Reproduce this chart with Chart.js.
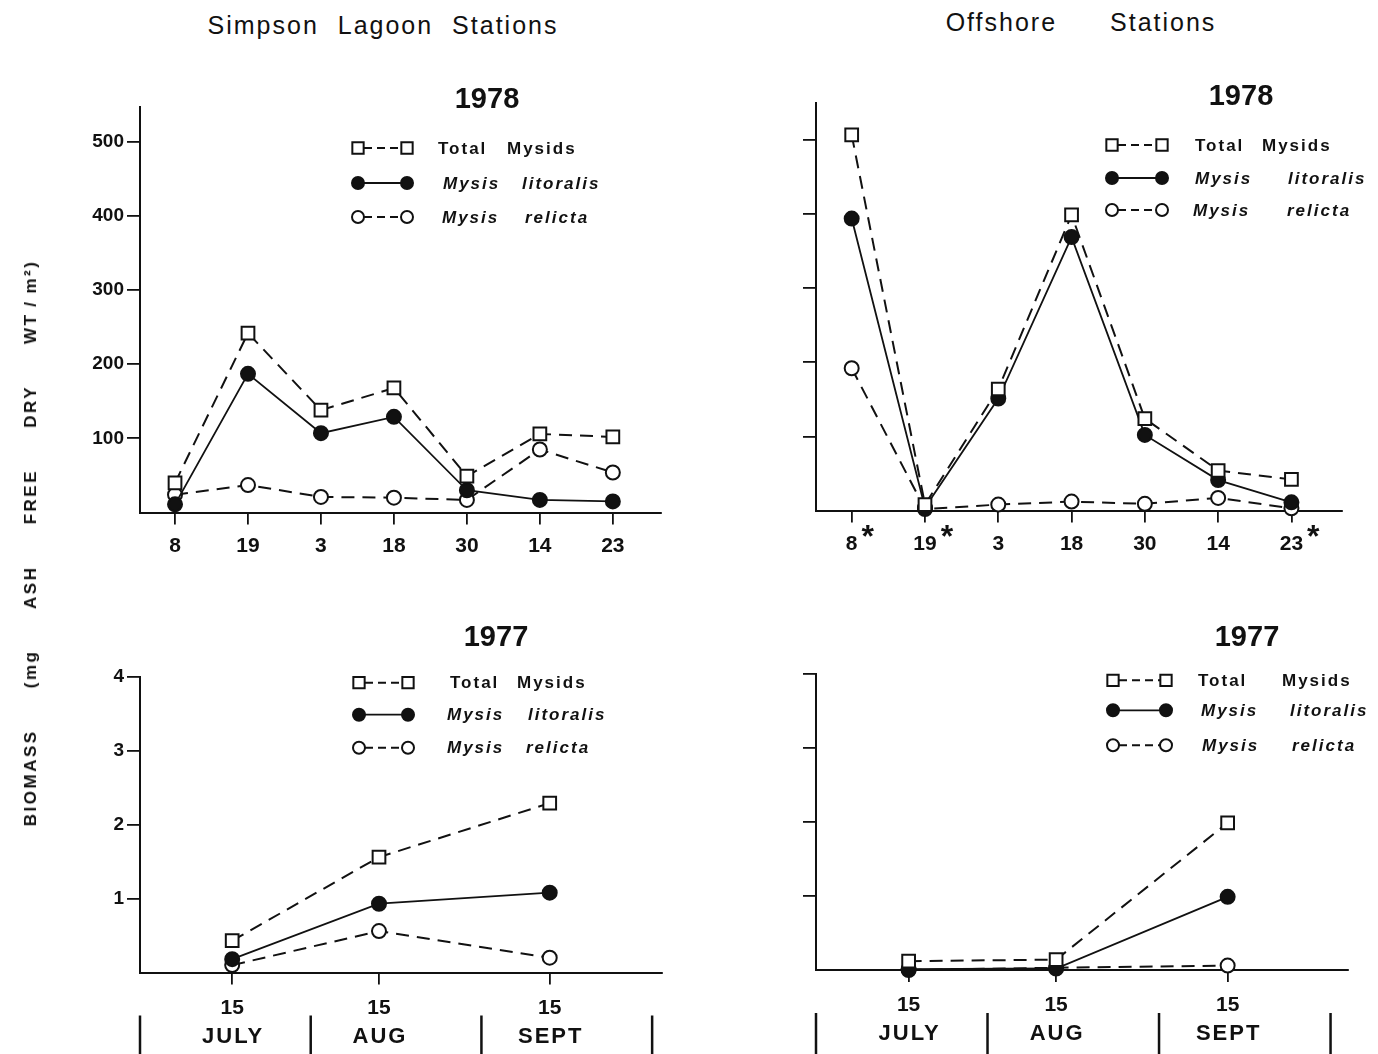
<!DOCTYPE html>
<html>
<head>
<meta charset="utf-8">
<script src="https://cdn.jsdelivr.net/npm/chart.js@4.4.1/dist/chart.umd.min.js"></script>
<style>
  html, body { margin: 0; padding: 0; background: #fff; }
  body { width: 1378px; height: 1054px; position: relative; overflow: hidden;
         font-family: "Liberation Sans", Arial, Helvetica, sans-serif; color: #111; }
  canvas { position: absolute; }
  .head { position: absolute; transform: translate(-50%, -50%); white-space: pre;
          font-size: 25px; letter-spacing: 2px; }
  #ytitle { position: absolute; left: 31px; top: 543px; white-space: pre;
            transform: translate(-50%, -50%) rotate(-90deg);
            font-weight: bold; font-size: 17px; letter-spacing: 2.5px; word-spacing: 34px; }
</style>
</head>
<body>
<canvas id="lagoon78" width="700" height="540" style="left:0;top:60px"></canvas>
<canvas id="offshore78" width="698" height="540" style="left:680px;top:60px"></canvas>
<canvas id="lagoon77" width="700" height="454" style="left:0;top:600px"></canvas>
<canvas id="offshore77" width="698" height="454" style="left:680px;top:600px"></canvas>
<div class="head" style="left:383px;top:25px;word-spacing:10px">Simpson Lagoon Stations</div>
<div class="head" style="left:1081px;top:22px;word-spacing:44px">Offshore Stations</div>
<div id="ytitle">BIOMASS (mg ASH FREE DRY WT&#8201;/&#8201;m²)</div>
<script>
const INK = '#111';
const FONT = '"Liberation Sans", Arial, Helvetica, sans-serif';

// Series shown in every panel
const seriesNames = ['Total Mysids', 'Mysis litoralis', 'Mysis relicta'];

// 1978 stations: sampling day of month, July 8 to Sept 23
const stationDays1978 = ['8', '19', '3', '18', '30', '14', '23'];
const stationIndex1978 = [0, 1, 2, 3, 4, 5, 6];
const offshoreStarred1978 = [true, true, false, false, false, false, true];

const lagoon1978Total     = [40, 242, 138, 168, 49, 106, 102];
const lagoon1978Litoralis = [11, 187, 107, 129, 30, 17, 15];
const lagoon1978Relicta   = [24, 37, 21, 20, 17, 85, 54];

const offshore1978Total     = [507, 8, 164, 399, 124, 54, 42];
const offshore1978Litoralis = [394, 4, 151, 369, 102, 41, 11];
const offshore1978Relicta   = [192, 2, 8, 12, 9, 17, 3];

// 1977: mid-month samples, position in months counted from 1 July
const samplePos1977 = [0.54, 1.40, 2.40];
const sampleDay1977 = ['15', '15', '15'];
const monthNames1977 = ['JULY', 'AUG', 'SEPT'];
const monthBounds1977 = [0, 1, 2, 3];

const lagoon1977Total     = [0.43, 1.56, 2.29];
const lagoon1977Litoralis = [0.18, 0.93, 1.08];
const lagoon1977Relicta   = [0.10, 0.56, 0.20];

const offshore1977Total     = [0.12, 0.14, 1.99];
const offshore1977Litoralis = [0.01, 0.02, 0.99];
const offshore1977Relicta   = [0.00, 0.03, 0.06];

const yTicks1978 = [100, 200, 300, 400, 500];
const yTicks1977 = [1, 2, 3, 4];

// Marker and line style per series (square/dashed, filled dot/solid, open dot/dashed)
const seriesStyle = [
  { pointStyle: 'rect',   pointRadius: 9, pointBackgroundColor: '#fff', borderDash: [13, 8], borderWidth: 2 },
  { pointStyle: 'circle', pointRadius: 7, pointBackgroundColor: INK,    borderDash: [],      borderWidth: 1.8 },
  { pointStyle: 'circle', pointRadius: 7, pointBackgroundColor: '#fff', borderDash: [13, 8], borderWidth: 2 }
];
const legendDash = [[8, 5], [], [8, 5]];
const legendItalic = [false, true, true];

function makeDatasets(xs, seriesList) {
  return seriesList.map((vals, i) => Object.assign({
    label: seriesNames[i],
    data: vals.map((v, k) => ({ x: xs[k], y: v })),
    borderColor: INK,
    pointBorderColor: INK,
    pointBorderWidth: 2,
    tension: 0,
    fill: false,
    clip: false
  }, seriesStyle[i]));
}

// Panel title, legend, starred stations and month row
const panelDecor = {
  id: 'panelDecor',
  afterDraw(chart, args, o) {
    const { ctx, chartArea: a, scales: { x } } = chart;
    ctx.save();
    ctx.fillStyle = INK;
    ctx.strokeStyle = INK;

    // year title
    ctx.font = 'bold 29px ' + FONT;
    ctx.textAlign = 'center';
    ctx.textBaseline = 'middle';
    ctx.fillText(o.title, a.left + o.titleDx, a.top + o.titleDy);

    // legend: marker - line - marker, then the two words
    chart.data.datasets.forEach((ds, i) => {
      const row = o.rows[i];
      const cy = a.top + row.dy;
      const x1 = a.left + o.symX[0], x2 = a.left + o.symX[1];
      ctx.beginPath();
      ctx.setLineDash(legendDash[i]);
      ctx.lineWidth = ds.borderWidth;
      ctx.moveTo(x1 + 6, cy);
      ctx.lineTo(x2 - 6, cy);
      ctx.stroke();
      ctx.setLineDash([]);
      [x1, x2].forEach(px => {
        ctx.fillStyle = ds.pointBackgroundColor;
        ctx.lineWidth = 2;
        Chart.helpers.drawPoint(ctx, {
          pointStyle: ds.pointStyle, radius: ds.pointRadius - 1, borderWidth: 2, rotation: 0
        }, px, cy);
      });
      ctx.fillStyle = INK;
      ctx.font = (legendItalic[i] ? 'italic ' : '') + 'bold 17px ' + FONT;
      ctx.letterSpacing = '2px';
      ctx.textAlign = 'left';
      ctx.textBaseline = 'middle';
      ds.label.split(' ').forEach((w, k) => ctx.fillText(w, a.left + row.wx[k], cy + 1));
      ctx.letterSpacing = '0px';
    });

    // asterisks beside starred stations
    if (o.stars) {
      ctx.textAlign = 'left';
      ctx.textBaseline = 'alphabetic';
      o.stars.forEach((s, i) => {
        if (!s) return;
        ctx.font = 'bold 21px ' + FONT;
        const w = ctx.measureText(o.starLabels[i]).width;
        ctx.font = 'bold 32px ' + FONT;
        ctx.fillText('*', x.getPixelForValue(i) + w / 2 + 4, a.bottom + 36);
      });
    }

    // month names and month boundaries
    if (o.months) {
      ctx.font = 'bold 22px ' + FONT;
      ctx.letterSpacing = '2px';
      ctx.textAlign = 'center';
      ctx.textBaseline = 'middle';
      o.months.forEach((m, i) => ctx.fillText(m, x.getPixelForValue(o.monthAt[i]) + 1, a.bottom + 64));
      ctx.letterSpacing = '0px';
      ctx.lineWidth = 2.5;
      o.bounds.forEach(b => {
        const px = x.getPixelForValue(b);
        ctx.beginPath();
        ctx.moveTo(px, a.bottom + 43);
        ctx.lineTo(px, a.bottom + 95);
        ctx.stroke();
      });
    }
    ctx.restore();
  }
};

function makePanel(id, p) {
  return new Chart(document.getElementById(id), {
    type: 'line',
    data: { datasets: makeDatasets(p.xs, p.series) },
    options: {
      responsive: false,
      animation: false,
      events: [],
      layout: { padding: p.padding },
      plugins: { legend: { display: false }, tooltip: { enabled: false }, panelDecor: p.decor },
      scales: {
        x: {
          type: 'linear', min: p.xMin, max: p.xMax,
          border: { display: true, color: INK, width: 2 },
          grid: { display: true, drawOnChartArea: false, drawTicks: true, tickLength: 12, color: INK, lineWidth: 1.8 },
          ticks: {
            autoSkip: false, maxRotation: 0, padding: p.xPad, color: INK,
            font: { family: FONT, size: 21, weight: 'bold' },
            callback: (v, i) => p.xLabels[i]
          },
          afterBuildTicks: s => { s.ticks = p.xs.map(v => ({ value: v })); },
          afterFit: s => { s.height = p.xHeight; }
        },
        y: {
          type: 'linear', min: 0, max: p.yMax,
          border: { display: true, color: INK, width: 2 },
          grid: { display: true, drawOnChartArea: false, drawTicks: true, tickLength: 13, color: INK, lineWidth: 1.8 },
          ticks: {
            display: p.yLabels, padding: 3, color: INK,
            font: { family: FONT, size: 19, weight: 'bold' }
          },
          afterBuildTicks: s => { s.ticks = p.yTicks.map(v => ({ value: v })); },
          afterFit: s => { s.width = p.yWidth; }
        }
      }
    },
    plugins: [panelDecor]
  });
}

makePanel('lagoon78', {
  xs: stationIndex1978, xLabels: stationDays1978, xMin: -0.48, xMax: 6.66, xPad: 9, xHeight: 87.5,
  series: [lagoon1978Total, lagoon1978Litoralis, lagoon1978Relicta],
  yMax: 547, yTicks: yTicks1978, yLabels: true, yWidth: 140,
  padding: { left: 0, top: 47, right: 39, bottom: 0 },
  decor: {
    title: '1978', titleDx: 347, titleDy: -7, symX: [218, 267],
    rows: [{ dy: 41, wx: [298, 367] }, { dy: 76, wx: [303, 382] }, { dy: 110, wx: [302, 385] }]
  }
});

makePanel('offshore78', {
  xs: stationIndex1978, xLabels: stationDays1978, xMin: -0.487, xMax: 6.69, xPad: 9, xHeight: 89.5,
  series: [offshore1978Total, offshore1978Litoralis, offshore1978Relicta],
  yMax: 550, yTicks: yTicks1978, yLabels: false, yWidth: 136,
  padding: { left: 0, top: 43, right: 36, bottom: 0 },
  decor: {
    title: '1978', titleDx: 425, titleDy: -6, symX: [296, 346],
    rows: [{ dy: 42, wx: [379, 446] }, { dy: 75, wx: [379, 472] }, { dy: 107, wx: [377, 471] }],
    stars: offshoreStarred1978, starLabels: stationDays1978
  }
});

makePanel('lagoon77', {
  xs: samplePos1977, xLabels: sampleDay1977, xMin: 0, xMax: 3.056, xPad: 11, xHeight: 81.5,
  series: [lagoon1977Total, lagoon1977Litoralis, lagoon1977Relicta],
  yMax: 4, yTicks: yTicks1977, yLabels: true, yWidth: 140,
  padding: { left: 0, top: 76.7, right: 38.3, bottom: 0 },
  decor: {
    title: '1977', titleDx: 356, titleDy: -39, symX: [219, 268],
    rows: [{ dy: 6, wx: [310, 377] }, { dy: 38, wx: [307, 388] }, { dy: 71, wx: [307, 386] }],
    months: monthNames1977, monthAt: samplePos1977, bounds: monthBounds1977
  }
});

makePanel('offshore77', {
  xs: samplePos1977, xLabels: sampleDay1977, xMin: 0, xMax: 3.10, xPad: 11, xHeight: 84,
  series: [offshore1977Total, offshore1977Litoralis, offshore1977Relicta],
  yMax: 4, yTicks: yTicks1977, yLabels: false, yWidth: 136,
  padding: { left: 0, top: 74.3, right: 30.3, bottom: 0 },
  decor: {
    title: '1977', titleDx: 431, titleDy: -36, symX: [297, 350],
    rows: [{ dy: 6, wx: [382, 466] }, { dy: 36, wx: [385, 474] }, { dy: 71, wx: [386, 476] }],
    months: monthNames1977, monthAt: samplePos1977, bounds: monthBounds1977
  }
});
</script>
</body>
</html>
